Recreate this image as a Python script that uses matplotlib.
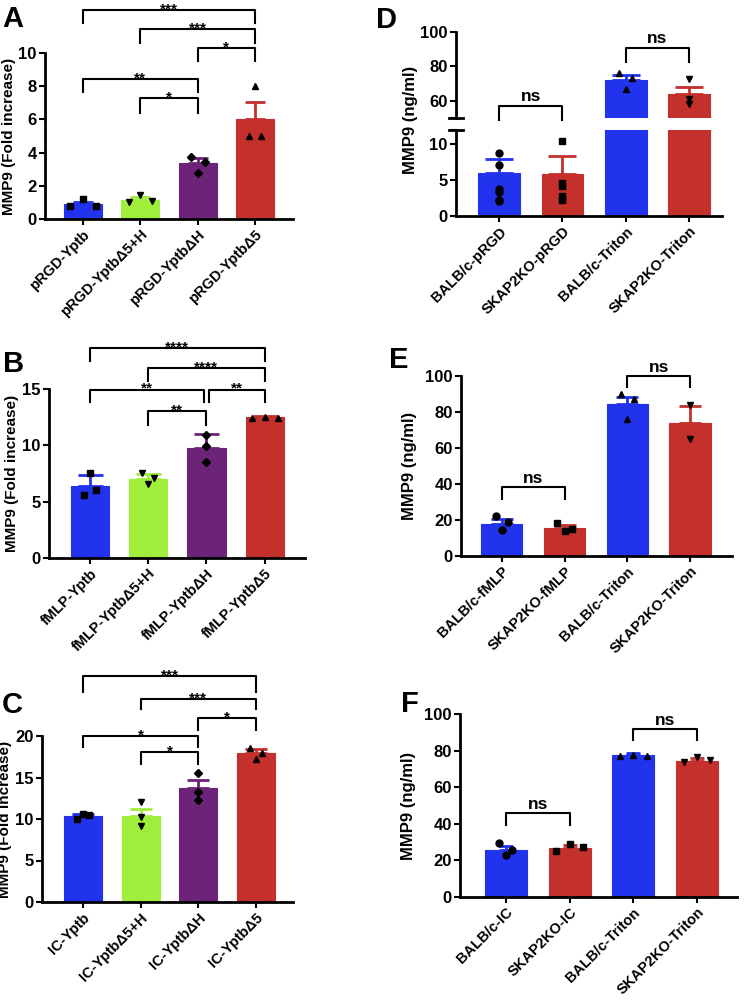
import numpy as np
import matplotlib.pyplot as plt

plt.rcParams['font.family'] = ['Liberation Sans', 'DejaVu Sans']
plt.rcParams['font.weight'] = 'bold'
plt.rcParams['axes.labelweight'] = 'bold'

BLUE = '#2233ee'
GREEN = '#a0ee3c'
PURPLE = '#6b2478'
RED = '#c4302b'

# ---- panel A ----
labels_a = ['pRGD-Yptb', 'pRGD-YptbΔ5+H', 'pRGD-YptbΔH', 'pRGD-YptbΔ5']
means_a = [0.93, 1.15, 3.35, 6.05]
sem_a = [0.12, 0.15, 0.30, 1.00]
pts_a = [[0.8, 1.2, 0.8], [1.05, 1.45, 1.08], [3.76, 2.8, 3.42], [5.0, 8.03, 5.0]]

# ---- panel B ----
labels_b = ['fMLP-Yptb', 'fMLP-YptbΔ5+H', 'fMLP-YptbΔH', 'fMLP-YptbΔ5']
means_b = [6.35, 7.0, 9.8, 12.5]
sem_b = [1.05, 0.5, 1.2, 0.1]
pts_b = [[5.56, 7.54, 6.07], [7.54, 6.57, 7.1], [10.95, 9.9, 8.52], [12.43, 12.51, 12.43]]

# ---- panel C ----
labels_c = ['IC-Yptb', 'IC-YptbΔ5+H', 'IC-YptbΔH', 'IC-YptbΔ5']
means_c = [10.35, 10.4, 13.75, 17.95]
sem_c = [0.25, 0.82, 1.0, 0.45]
pts_c = [[10.0, 10.6, 10.45], [12.1, 10.3, 9.2], [15.6, 13.3, 12.3], [18.6, 17.2, 17.9]]

# ---- panel D ----
labels_d = ['BALB/c-pRGD', 'SKAP2KO-pRGD', 'BALB/c-Triton', 'SKAP2KO-Triton']
means_d = [6.0, 5.84, 72.1, 63.7]
sem_d = [2.0, 2.5, 2.9, 4.2]
pts_d = [[8.75, 7.1, 2.05], [10.5, 4.65, 2.35], [76.3, 66.7, 73.5], [72.7, 61.2, 58.1]]

# ---- panel E ----
labels_e = ['BALB/c-fMLP', 'SKAP2KO-fMLP', 'BALB/c-Triton', 'SKAP2KO-Triton']
means_e = [18.0, 15.4, 84.3, 73.9]
sem_e = [2.4, 1.8, 4.2, 9.2]
pts_e = [[22.0, 14.3, 18.9], [18.5, 13.7, 15.2], [90.0, 76.3, 87.0], [83.7, 65.2]]

# ---- panel F ----
labels_f = ['BALB/c-IC', 'SKAP2KO-IC', 'BALB/c-Triton', 'SKAP2KO-Triton']
means_f = [25.8, 26.7, 77.6, 74.5]
sem_f = [1.8, 1.8, 0.9, 1.7]
pts_f = [[29.3, 23.1, 25.8], [25.3, 28.9, 27.5], [77.1, 77.5, 77.1], [73.5, 76.7, 74.9]]

colors_left = [BLUE, GREEN, PURPLE, RED]
colors_right = [BLUE, RED, BLUE, RED]
markers_left = ['s', 'v', 'D', '^']
markers_right = ['o', 's', '^', 'v']

fig = plt.figure(figsize=(7.48, 10), dpi=100)


def px_axes(l, t, r, b):
    return fig.add_axes([l / 748, 1 - b / 1000, (r - l) / 748, (b - t) / 1000])


def style(ax, xlim):
    for s in ['top', 'right']:
        ax.spines[s].set_visible(False)
    for s in ['left', 'bottom']:
        ax.spines[s].set_linewidth(2)
    ax.tick_params(width=1.5, length=4, labelsize=12, pad=2)
    ax.set_xlim(*xlim)


def bars(ax, means, sems, pts, colors, markers, spread, capsize):
    x = np.arange(len(means))
    ax.bar(x, means, width=0.66, color=colors, edgecolor=colors, linewidth=0.8, zorder=1)
    for i in x:
        ax.errorbar(x[i], means[i], yerr=[[0], [sems[i]]], fmt='none', ecolor=colors[i],
                    elinewidth=2, capsize=capsize, capthick=2, zorder=2, clip_on=False)
        offs = np.linspace(-spread[i], spread[i], len(pts[i]))
        ms = 4 if markers[i] == 'D' else 5
        ax.plot(x[i] + offs, pts[i], ls='none', marker=markers[i], color='black', ms=ms,
                zorder=3, clip_on=False)


def xlabels(ax, labels):
    ax.set_xticks(np.arange(len(labels)))
    ax.set_xticklabels(labels, rotation=45, ha='right', rotation_mode='anchor', fontsize=10.5)


def bracket(ax, i, j, y, yl, yr, text, fs=11):
    ax.plot([i, i, j, j], [yl, y, y, yr], color='black', lw=1.5, clip_on=False, zorder=4)
    dy = -4.5 if text.startswith('*') else 1
    ax.annotate(text, ((i + j) / 2, y), xytext=(0, dy), textcoords='offset points',
                ha='center', va='bottom', fontsize=fs, annotation_clip=False)


# A
ax = px_axes(45, 53, 293, 219)
bars(ax, means_a, sem_a, pts_a, colors_left, markers_left, [0.22, 0.2, 0.12, 0.1], 7)
style(ax, (-0.66, 3.66))
ax.set_ylim(0, 10)
ax.set_yticks([0, 2, 4, 6, 8, 10])
xlabels(ax, labels_a)
ax.set_ylabel('MMP9 (Fold increase)', fontsize=11, labelpad=2)
bracket(ax, 0, 3, 12.6, 11.8, 11.8, '***')
bracket(ax, 1, 3, 11.45, 10.6, 10.6, '***')
bracket(ax, 2, 3, 10.3, 9.5, 9.5, '*')
bracket(ax, 0, 2, 8.43, 7.65, 7.65, '**')
bracket(ax, 1, 2, 7.29, 6.39, 6.39, '*')

# B
ax = px_axes(49, 389, 305, 558)
bars(ax, means_b, sem_b, pts_b, colors_left, markers_left, [0.1, 0.1, 0.0, 0.22], 9)
style(ax, (-0.7, 3.69))
ax.set_ylim(0, 15)
ax.set_yticks([0, 5, 10, 15])
xlabels(ax, labels_b)
ax.set_ylabel('MMP9 (Fold increase)', fontsize=11, labelpad=2)
bracket(ax, 0, 3, 18.64, 17.51, 17.51, '****')
bracket(ax, 1, 3, 16.86, 15.68, 15.68, '****')
bracket(ax, 0, 1.95, 14.94, 13.82, 13.82, '**')
bracket(ax, 2.05, 3, 14.94, 13.82, 13.82, '**')
bracket(ax, 1, 2, 13.02, 11.83, 11.83, '**')

# C
ax = px_axes(42, 736, 293, 902)
bars(ax, means_c, sem_c, pts_c, colors_left, markers_left, [0.1, 0.0, 0.0, 0.1], 8)
style(ax, (-0.71, 3.64))
ax.set_ylim(0, 20)
ax.set_yticks([0, 5, 10, 15, 20])
xlabels(ax, labels_c)
ax.set_ylabel('MMP9 (Fold increase)', fontsize=11, labelpad=2)
bracket(ax, 0, 3, 27.25, 25.33, 25.33, '***')
bracket(ax, 1, 3, 24.45, 23.2, 23.2, '***')
bracket(ax, 2, 3, 22.2, 20.72, 20.72, '*')
bracket(ax, 0, 2, 20.0, 18.64, 18.64, '*')
bracket(ax, 1, 2, 18.08, 16.6, 16.6, '*')

# D (broken axis)
ax_lo = px_axes(456, 130, 722, 216)
ax_hi = px_axes(456, 32, 722, 118)
for a in (ax_lo, ax_hi):
    bars(a, means_d, sem_d, pts_d, colors_right, markers_right, [0.0, 0.0, 0.1, 0.0], 10)
    style(a, (-0.68, 3.52))
ax_lo.set_ylim(0, 12)
ax_lo.set_yticks([0, 5, 10, 12])
ax_lo.set_yticklabels(['0', '5', '10', ''])
xlabels(ax_lo, labels_d)
ax_hi.set_ylim(50, 100)
ax_hi.set_yticks([50, 60, 80, 100])
ax_hi.set_yticklabels(['', '60', '80', '100'])
ax_hi.spines['bottom'].set_visible(False)
ax_hi.set_xticks([])
for a, yy in ((ax_lo, 1), (ax_hi, 0)):
    a.plot([-0.025, 0.025], [yy, yy], transform=a.transAxes, color='black', lw=2, clip_on=False)
fig.text(410 / 748, 1 - 120 / 1000, 'MMP9 (ng/ml)', rotation=90, ha='center', va='center',
         fontsize=12)
bracket(ax_hi, 0, 1, 57.1, 49.0, 49.0, 'ns', 12.5)
bracket(ax_hi, 2, 3, 90.8, 82.7, 82.7, 'ns', 12.5)

# E
ax = px_axes(461, 376, 732, 556)
bars(ax, means_e, sem_e, pts_e, colors_right, markers_right, [0.1, 0.12, 0.1, 0.0], 8)
style(ax, (-0.65, 3.67))
ax.set_ylim(0, 100)
ax.set_yticks([0, 20, 40, 60, 80, 100])
xlabels(ax, labels_e)
ax.set_ylabel('MMP9 (ng/ml)', fontsize=12, labelpad=6)
bracket(ax, 0, 1, 38.3, 31.9, 31.9, 'ns', 12.5)
bracket(ax, 2, 3, 100, 93.9, 93.9, 'ns', 12.5)

# F
ax = px_axes(460, 714, 737, 897)
bars(ax, means_f, sem_f, pts_f, colors_right, markers_right, [0.1, 0.21, 0.21, 0.21], 5)
style(ax, (-0.72, 3.63))
ax.set_ylim(0, 100)
ax.set_yticks([0, 20, 40, 60, 80, 100])
xlabels(ax, labels_f)
ax.set_ylabel('MMP9 (ng/ml)', fontsize=12, labelpad=6)
bracket(ax, 0, 1, 45.8, 39.1, 39.1, 'ns', 12.5)
bracket(ax, 2, 3, 91.6, 85.8, 85.8, 'ns', 12.5)

# panel letters
for letter, xp, yp in [('A', 2, 5), ('B', 3, 350), ('C', 2, 691),
                       ('D', 376, 6), ('E', 389, 346), ('F', 401, 690)]:
    fig.text(xp / 748, 1 - yp / 1000, letter, fontsize=21, fontweight='bold',
             ha='left', va='top')

fig.savefig('out.png', dpi=100)
